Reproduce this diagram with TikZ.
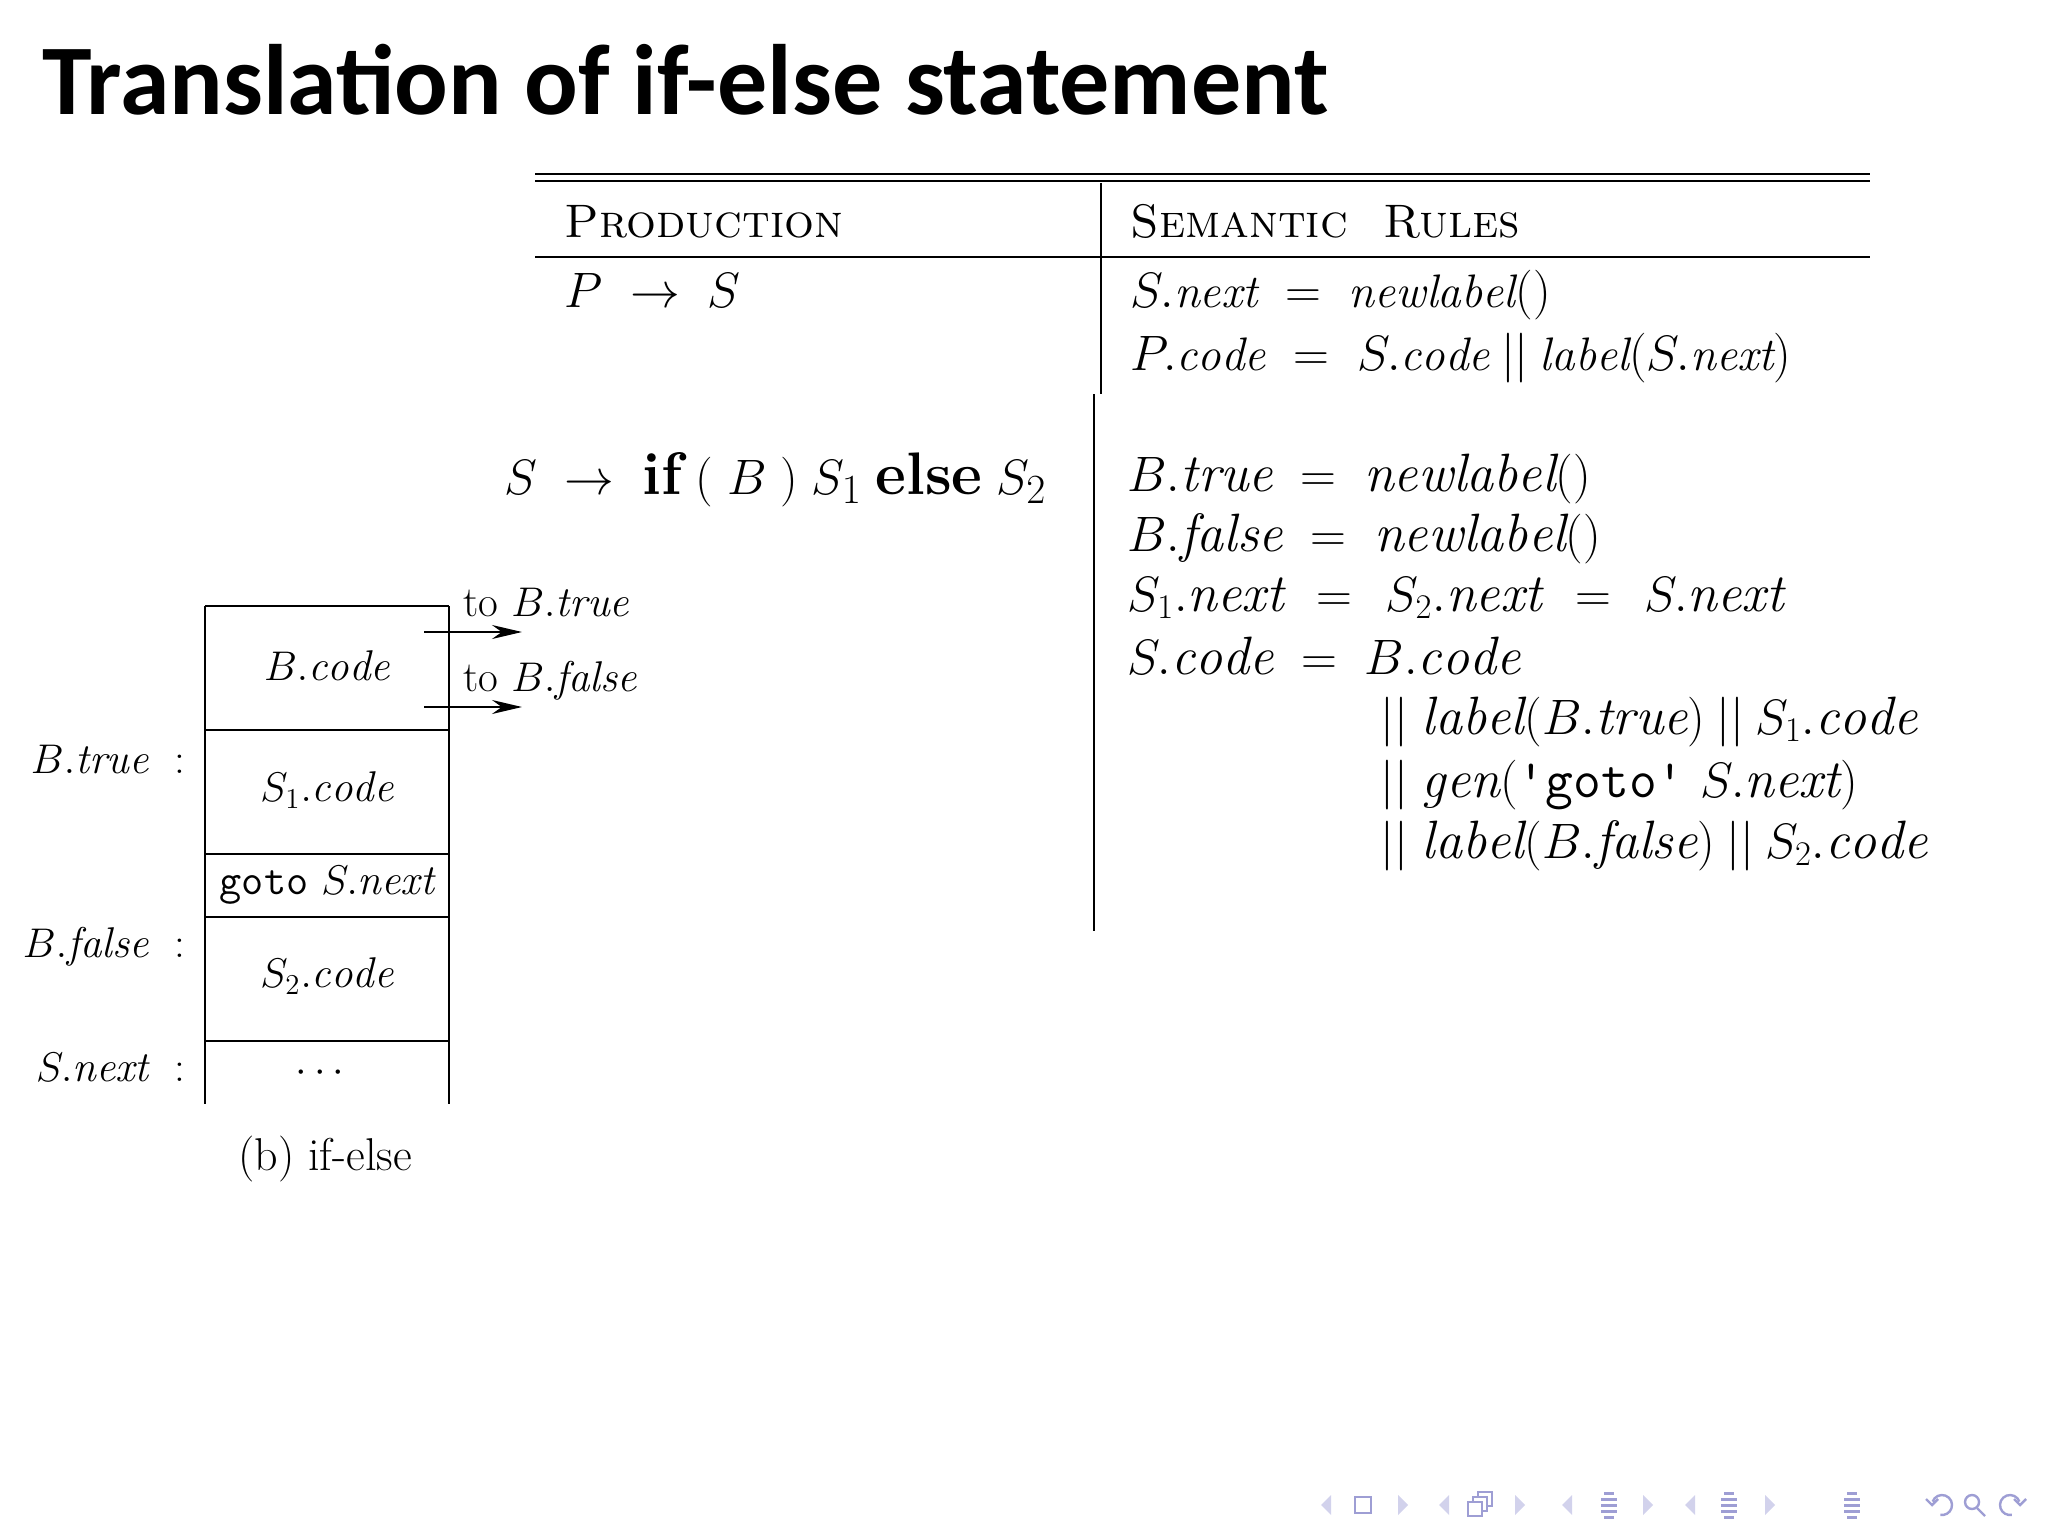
\documentclass[tikz,border=0pt]{standalone}
\usepackage{fontspec}
\newfontfamily\titlefont{Carlito}
\usetikzlibrary{arrows,arrows.meta,shapes}

\definecolor{navdark}{RGB}{158,158,212}
\definecolor{navlight}{RGB}{210,210,236}

\tikzstyle{rule}=[line width=1.4pt]
\tikzstyle{thinrule}=[line width=0.9pt]
\tikzstyle{tabtext}=[anchor=base west, inner sep=0pt, font=\fontsize{23.5}{28}\selectfont]
\tikzstyle{semtext}=[anchor=base west, inner sep=0pt, font=\fontsize{27}{32}\selectfont]
\tikzstyle{celltext}=[inner sep=0pt, font=\fontsize{21.5}{26}\selectfont]
\tikzstyle{labtext}=[anchor=base east, inner sep=0pt, font=\fontsize{21.5}{26}\selectfont]
\tikzstyle{jump}=[-{Stealth[length=15pt,width=7pt]}, line width=0.9pt]
\tikzstyle{navtri}=[fill=navlight]
\tikzstyle{navicon}=[draw=navdark, line width=1.2pt]

\newcommand{\attr}[2]{#1.\mathit{#2}}

\begin{document}
\begin{tikzpicture}[x=0.5pt, y=-0.5pt]
\useasboundingbox (0,0) rectangle (2048,1540);
\node [anchor=base west, inner sep=0pt, font=\titlefont\bfseries\fontsize{50}{58}\selectfont] (title) at (42,115) {Translation of if-else statement};

% table rules
\draw [rule] (535,174) -- (1870,174);
\draw [rule] (535,181) -- (1870,181);
\draw [rule] (535,257) -- (1870,257);
\draw [thinrule] (1101,183) -- (1101,394);
\draw [thinrule] (1094,394) -- (1094,931);

\node [tabtext] (prod) at (564,238) {\textsc{Production}};
\node [tabtext] (sem) at (1130,238) {\textsc{Semantic\ \ Rules}};
\node [tabtext] (p1) at (564,307) {$P \;\rightarrow\; S$};
\node [tabtext] (r1) at (1130,307) {$\attr{S}{next} \;=\; \mathit{newlabel}()$};
\node [tabtext] (r2) at (1130,371) {$\attr{P}{code} \;=\; \attr{S}{code} \mathbin{||} \mathit{label}(\attr{S}{next})$};

\node [semtext, font=\fontsize{30}{35}\selectfont] (p2) at (504,494) {$S \;\rightarrow\; \textbf{if}\;(\;B\;)\;S_1\;\textbf{else}\;S_2$};
\node [semtext] (r3) at (1127,491) {$\attr{B}{true} \;=\; \mathit{newlabel}()$};
\node [semtext] (r4) at (1127,551) {$\attr{B}{false} \;=\; \mathit{newlabel}()$};
\node [semtext] (r5) at (1127,611) {$\attr{S_1}{next} \;\mkern2mu=\;\mkern2mu \attr{S_2}{next} \;\mkern2mu=\;\mkern2mu \attr{S}{next}$};
\node [semtext] (r6) at (1127,674) {$\attr{S}{code} \;=\; \attr{B}{code}$};
\node [semtext] (r7) at (1380,734) {$||\; \mathit{label}(\attr{B}{true}) \mathbin{||} \attr{S_1}{code}$};
\node [semtext] (r8) at (1380,797) {$||\; \mathit{gen}(\mbox{\texttt{'goto'}}\ \attr{S}{next})$};
\node [semtext] (r9) at (1380,858) {$||\; \mathit{label}(\attr{B}{false}) \mathbin{||} \attr{S_2}{code}$};

% code layout for if-else
\draw [thinrule] (205,606) -- (205,1104);
\draw [thinrule] (449,606) -- (449,1104);
\foreach \y in {606,730,854,917,1041}
  \draw [thinrule] (205,\y) -- (449,\y);

\node [celltext] (bcode) at (327,666) {$\attr{B}{code}$};
\node [celltext] (s1code) at (327,790) {$\attr{S_1}{code}$};
\node [celltext] (gotonext) at (327,885) {\texttt{goto} $\attr{S}{next}$};
\node [celltext] (s2code) at (327,976) {$\attr{S_2}{code}$};
\node [celltext, anchor=base] (dots) at (320,1082) {$\cdots$};

\node [labtext] (ltrue) at (186,773) {$\attr{B}{true}$ \ :};
\node [labtext] (lfalse) at (186,957) {$\attr{B}{false}$ \ :};
\node [labtext] (lnext) at (186,1081) {$\attr{S}{next}$ \ :};

\node [celltext, anchor=base west] (totrue) at (463,616) {to $\attr{B}{true}$};
\node [celltext, anchor=base west] (tofalse) at (463,691) {to $\attr{B}{false}$};
\coordinate (jt0) at (424,632);
\coordinate (jt1) at (522,632);
\coordinate (jf0) at (424,707);
\coordinate (jf1) at (522,707);
\draw [jump] (jt0) -- (jt1);
\draw [jump] (jf0) -- (jf1);

\node [celltext, anchor=base, font=\fontsize{23}{28}\selectfont] (caption) at (325,1170) {(b) if-else};

% navigation symbols
\foreach \x in {1326,1444,1567,1690}
  \fill [navtri] (\x+5,1495) -- (\x-5,1505) -- (\x+5,1515) -- cycle;
\foreach \x in {1403,1520,1648,1770}
  \fill [navtri] (\x-5,1495) -- (\x+5,1505) -- (\x-5,1515) -- cycle;
\draw [navicon] (1355,1497) rectangle (1371,1513);
\foreach \d in {0,5,10}
  \filldraw [navicon, fill=white] (1478-\d,1492+\d) rectangle (1492-\d,1506+\d);
\foreach \x in {1609,1729,1852}
  \foreach \yy/\w in {1493/5,1499/8,1505/8,1511/8,1517/5}
    \fill [navdark] (\x-\w,\yy-1.5) rectangle (\x+\w,\yy+1.5);
\draw [navicon] (1942,1505) ++(-160:10) arc (-160:100:10);
\draw [navicon] (1926,1499) -- (1932,1505) -- (1938,1499);
\draw [navicon] (1972,1502) circle (7);
\draw [navicon] (1977,1508) -- (1985,1516);
\draw [navicon] (2010,1505) ++(-20:10) arc (-20:-280:10);
\draw [navicon] (2014,1499) -- (2020,1505) -- (2026,1499);
\end{tikzpicture}
\end{document}
